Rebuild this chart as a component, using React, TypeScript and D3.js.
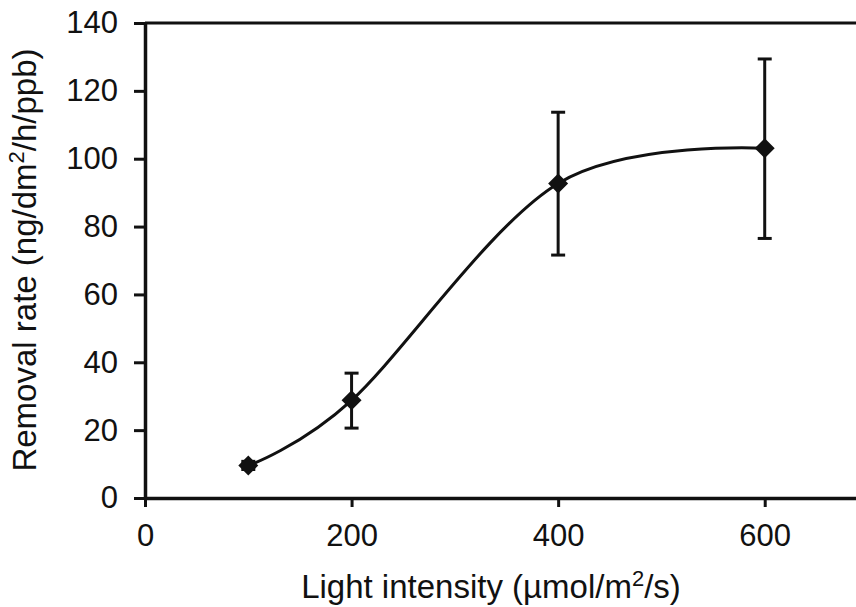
import React, { useEffect, useRef } from 'react';
import * as d3 from 'd3';

const lightIntensity = [100, 200, 400, 600];
const removalRate = [9.6, 28.8, 92.7, 103.1];
const errorLow = [8.4, 20.6, 71.6, 76.5];
const errorHigh = [10.8, 36.8, 113.7, 129.4];
const xTicks = [0, 200, 400, 600];
const yTicks = [0, 20, 40, 60, 80, 100, 120, 140];

const width = 856;
const height = 607;
const ink = '#111';
const font = '"Liberation Sans", Arial, sans-serif';

const App = () => {
  const svgRef = useRef<SVGSVGElement>(null);

  useEffect(() => {
    const svg = d3.select(svgRef.current);
    svg.selectAll('*').remove();

    const x = d3.scaleLinear().domain([0, 700]).range([145, 868]);
    const y = d3.scaleLinear().domain([0, 140]).range([498, 23]);

    // top frame line
    svg.append('line')
      .attr('x1', x(0)).attr('x2', x(700))
      .attr('y1', y(140)).attr('y2', y(140))
      .attr('stroke', ink).attr('stroke-width', 3);

    const yAxis = d3.axisLeft(y).tickValues(yTicks).tickSize(11).tickPadding(16).tickSizeOuter(0);
    const gy = svg.append('g').attr('transform', `translate(${x(0)},0)`).call(yAxis);

    const xAxis = d3.axisBottom(x).tickValues(xTicks).tickSize(9).tickPadding(17).tickSizeOuter(0);
    const gx = svg.append('g').attr('transform', `translate(0,${y(0)})`).call(xAxis);

    [gx, gy].forEach(g => {
      g.select('.domain').attr('stroke', ink).attr('stroke-width', 3.5);
      g.selectAll('.tick line').attr('stroke', ink).attr('stroke-width', 3);
      g.selectAll('.tick text')
        .attr('fill', ink)
        .style('font-family', font)
        .style('font-size', '31px');
    });

    const pts = lightIntensity.map((d, i) => [x(d), y(removalRate[i])] as [number, number]);

    const curve = d3.line().curve(d3.curveCardinal.tension(0));
    svg.append('path')
      .attr('d', curve(pts))
      .attr('fill', 'none')
      .attr('stroke', ink)
      .attr('stroke-width', 3);

    // error bars
    const eb = svg.append('g').attr('stroke', ink).attr('stroke-width', 3);
    lightIntensity.forEach((d, i) => {
      const cx = x(d);
      eb.append('line').attr('x1', cx).attr('x2', cx).attr('y1', y(errorLow[i])).attr('y2', y(errorHigh[i]));
      [errorLow[i], errorHigh[i]].forEach(v => {
        eb.append('line').attr('x1', cx - 7).attr('x2', cx + 7).attr('y1', y(v)).attr('y2', y(v));
      });
    });

    // diamond markers
    svg.append('g').selectAll('path')
      .data(pts)
      .join('path')
      .attr('transform', d => `translate(${d[0]},${d[1]})`)
      .attr('d', 'M0,-10L10,0L0,10L-10,0Z')
      .attr('fill', ink);

    // axis titles
    const xt = svg.append('text')
      .attr('x', 491).attr('y', 598)
      .attr('text-anchor', 'middle')
      .attr('fill', ink)
      .style('font-family', font)
      .style('font-size', '33px');
    xt.append('tspan').text('Light intensity (µmol/m');
    xt.append('tspan').attr('dy', -12).style('font-size', '22px').text('2');
    xt.append('tspan').attr('dy', 12).text('/s)');

    const yt = svg.append('text')
      .attr('transform', 'translate(36,260) rotate(-90)')
      .attr('text-anchor', 'middle')
      .attr('fill', ink)
      .style('font-family', font)
      .style('font-size', '33px');
    yt.append('tspan').text('Removal rate (ng/dm');
    yt.append('tspan').attr('dy', -12).style('font-size', '22px').text('2');
    yt.append('tspan').attr('dy', 12).text('/h/ppb)');
  }, []);

  return (
    <svg
      ref={svgRef}
      width={width}
      height={height}
      style={{ position: 'absolute', left: 0, top: 0, background: '#fff' }}
    />
  );
};

export default App;
